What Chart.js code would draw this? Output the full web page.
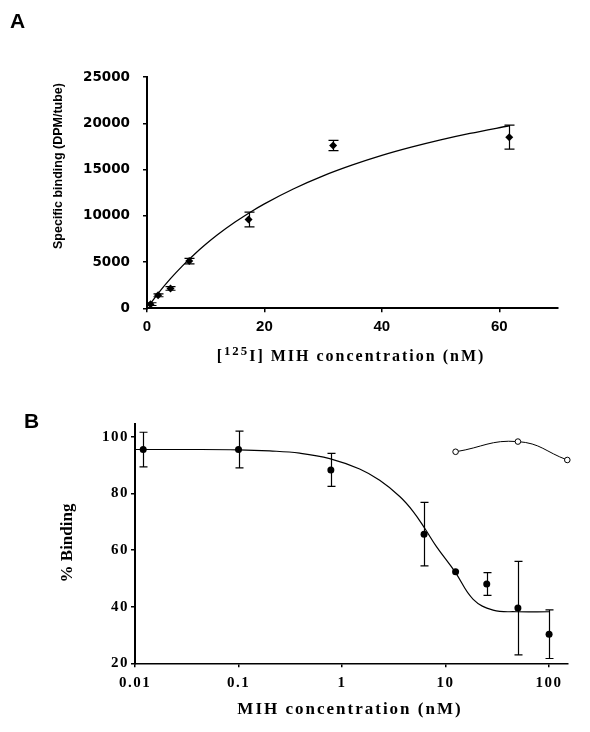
<!DOCTYPE html>
<html><head><meta charset="utf-8">
<script src="https://cdn.jsdelivr.net/npm/chart.js@4.4.0/dist/chart.umd.min.js"></script>
<style>
html,body{margin:0;padding:0;background:#fff;}
#wrap{position:relative;width:590px;height:732px;overflow:hidden;background:#fff;}
canvas{position:absolute;left:0;}
.lbl{position:absolute;white-space:nowrap;color:#000;text-align:center;}
</style></head><body>
<div id="wrap">
<canvas id="cA" width="590" height="370" style="top:0;width:590px;height:370px"></canvas>
<canvas id="cB" width="590" height="362" style="top:370px;width:590px;height:362px"></canvas>
<div class="lbl" style="left:10px;top:9px;line-height:21px;font:bold 21px 'Liberation Sans',Arial,sans-serif;">A</div>
<div class="lbl" style="left:24px;top:409px;line-height:21px;font:bold 21px 'Liberation Sans',Arial,sans-serif;">B</div>
<div class="lbl" style="left:-41px;top:158px;width:200px;height:16px;line-height:16px;font:bold 12.5px 'Liberation Sans',Arial,sans-serif;transform:rotate(-90deg);">Specific binding (DPM/tube)</div>
<div class="lbl" style="left:151px;top:347px;width:400px;height:22px;line-height:22px;font:bold 16px 'Liberation Serif','Times New Roman',serif;letter-spacing:2px;">[<sup style="font-size:0.8em;vertical-align:0.45em;line-height:0">125</sup>I] MIH concentration (nM)</div>
<div class="lbl" style="left:-7px;top:532px;width:150px;height:22px;line-height:22px;font:bold 17px 'Liberation Serif','Times New Roman',serif;transform:rotate(-90deg);">% Binding</div>
<div class="lbl" style="left:150px;top:699px;width:400px;height:22px;line-height:22px;font:bold 17px 'Liberation Serif','Times New Roman',serif;letter-spacing:2px;">MIH concentration (nM)</div>
</div>
<script>
// ---- Panel A data ----
const concA = [0.6, 1.9, 4.0, 7.2, 17.3, 31.7, 61.7];
const bindA = [450, 1400, 2150, 5100, 9600, 17600, 18500];
const errA  = [150, 150, 200, 300, 800, 550, 1300];
const fitConcA = [0.5, 2, 4, 6, 8, 10, 12, 15, 18, 20, 25, 30, 35, 40, 45, 50, 55, 61.7];
const fitBindA = [440, 1690, 3200, 4560, 5790, 6910, 7940, 9320, 10550, 11290, 12920, 14310, 15490, 16520, 17410, 18200, 18900, 19730];
const ticksAx = [0, 20, 40, 60];
const ticksAy = [0, 5000, 10000, 15000, 20000, 25000];

// ---- Panel B data ----
const concB = [0.012, 0.1, 0.78, 6.2, 12.5, 25, 50, 100];
const bindB = [95.5, 95.5, 88.3, 65.6, 52.3, 48, 39.5, 30.3];
const errB  = [6.1, 6.5, 5.8, 11.2, 0, 4, 16.5, 8.6];
const ctrlConcB = [12.5, 50, 150];
const ctrlBindB = [94.7, 98.3, 91.8];
const fitConcB = [0.01, 0.03, 0.1, 0.2, 0.39, 0.76, 1.48, 2.31, 3.61, 4.87, 6.29, 8.17, 12.3, 18.5, 28.8, 48.4, 100];
const fitBindB = [95.5, 95.5, 95.4, 95.0, 94.2, 92.3, 88.6, 84.6, 78.9, 73.6, 67.7, 61.2, 52.4, 42.6, 38.8, 38.2, 38.2];
const ticksBx = [0.01, 0.1, 1, 10, 100];
const ticksBy = [20, 40, 60, 80, 100];

const pts = (xs, ys) => xs.map((x, i) => ({x: x, y: ys[i]}));

const errorBars = {
  id: 'errorBars',
  afterDatasetsDraw(chart) {
    const ctx = chart.ctx;
    const xs = chart.scales.x, ys = chart.scales.y;
    chart.data.datasets.forEach(ds => {
      if (!ds.errors) return;
      const cap = ds.capHalf || 4;
      ctx.save();
      ctx.strokeStyle = '#000';
      ctx.lineWidth = 1.2;
      ds.data.forEach((p, j) => {
        const e = ds.errors[j];
        if (!e) return;
        const px = Math.round(xs.getPixelForValue(p.x)) + 0.5;
        const y1 = ys.getPixelForValue(p.y + e), y2 = ys.getPixelForValue(p.y - e);
        ctx.beginPath();
        ctx.moveTo(px, y1); ctx.lineTo(px, y2);
        ctx.moveTo(px - cap, y1); ctx.lineTo(px + cap, y1);
        ctx.moveTo(px - cap, y2); ctx.lineTo(px + cap, y2);
        ctx.stroke();
      });
      ctx.restore();
    });
  }
};

const keepTicks = list => scale => {
  scale.ticks = list.map(v => ({value: v}));
};

const common = {
  responsive: false,
  animation: false,
  devicePixelRatio: 1,
  plugins: {legend: {display: false}, tooltip: {enabled: false}},
  events: []
};

// ---- Chart A ----
new Chart(document.getElementById('cA'), {
  type: 'scatter',
  data: {
    datasets: [
      {data: pts(fitConcA, fitBindA), showLine: true, pointRadius: 0, borderColor: '#000', borderWidth: 1.3,
       cubicInterpolationMode: 'monotone', clip: false},
      {data: pts(concA, bindA), showLine: false, pointStyle: 'rectRot', pointRadius: 4,
       backgroundColor: '#000', borderColor: '#000', borderWidth: 0, errors: errA, capHalf: 5, clip: false}
    ]
  },
  options: Object.assign({}, common, {
    layout: {padding: {left: 0, right: 32, top: 77, bottom: 31.7}},
    scales: {
      x: {
        type: 'linear', min: 0, max: 70,
        afterBuildTicks: keepTicks(ticksAx),
        afterFit: s => { s.height = 30; },
        ticks: {color: '#000', padding: 6, maxRotation: 0, callback: v => String(v),
                font: {family: "'Liberation Sans', Arial, sans-serif", weight: 'bold', size: 15}},
        grid: {display: true, drawOnChartArea: false, drawTicks: true, tickLength: 4, color: '#000', lineWidth: 1.5},
        border: {display: true, color: '#000', width: 2}
      },
      y: {
        type: 'linear', min: 0, max: 25000,
        afterBuildTicks: keepTicks(ticksAy),
        afterFit: s => { s.width = 147; },
        ticks: {color: '#000', padding: 13, callback: v => String(v),
                font: {family: "'DejaVu Sans', Verdana, sans-serif", weight: 'bold', size: 13.5}},
        grid: {display: true, drawOnChartArea: false, drawTicks: true, tickLength: 4, color: '#000', lineWidth: 1.5},
        border: {display: true, color: '#000', width: 2}
      }
    }
  }),
  plugins: [errorBars]
});

// ---- Chart B ----
const spacing = {
  id: 'spacing',
  beforeDraw(chart) { chart.ctx.letterSpacing = '1.5px'; }
};

new Chart(document.getElementById('cB'), {
  type: 'scatter',
  data: {
    datasets: [
      {data: pts(fitConcB, fitBindB), showLine: true, pointRadius: 0, borderColor: '#000', borderWidth: 1.2,
       tension: 0.4, clip: false},
      {data: pts(ctrlConcB, ctrlBindB), showLine: true, pointRadius: 2.8, pointStyle: 'circle',
       backgroundColor: '#fff', borderColor: '#000', borderWidth: 1, tension: 0.45, clip: false},
      {data: pts(concB, bindB), showLine: false, pointStyle: 'circle', pointRadius: 3.5,
       backgroundColor: '#000', borderColor: '#000', borderWidth: 0, errors: errB, capHalf: 4, clip: false}
    ]
  },
  options: Object.assign({}, common, {
    layout: {padding: {left: 0, right: 22.7, top: 54.3, bottom: 38.7}},
    scales: {
      x: {
        type: 'logarithmic', min: 0.01, max: 150,
        afterBuildTicks: keepTicks(ticksBx),
        afterFit: s => { s.height = 30; },
        ticks: {color: '#000', padding: 7, maxRotation: 0, autoSkip: false,
                callback: v => String(Number(Number(v).toPrecision(3))),
                font: {family: "'Liberation Serif', 'Times New Roman', serif", weight: 'bold', size: 15}},
        grid: {display: true, drawOnChartArea: false, drawTicks: true, tickLength: 4, color: '#000', lineWidth: 1.5},
        border: {display: true, color: '#000', width: 1.5}
      },
      y: {
        type: 'linear', min: 20, max: 104.4,
        afterBuildTicks: keepTicks(ticksBy),
        afterFit: s => { s.width = 135; },
        ticks: {color: '#000', padding: 2, callback: v => String(v),
                font: {family: "'Liberation Serif', 'Times New Roman', serif", weight: 'bold', size: 15}},
        grid: {display: true, drawOnChartArea: false, drawTicks: true, tickLength: 4, color: '#000', lineWidth: 1.5},
        border: {display: true, color: '#000', width: 2}
      }
    }
  }),
  plugins: [spacing, errorBars]
});
</script>
</body></html>
